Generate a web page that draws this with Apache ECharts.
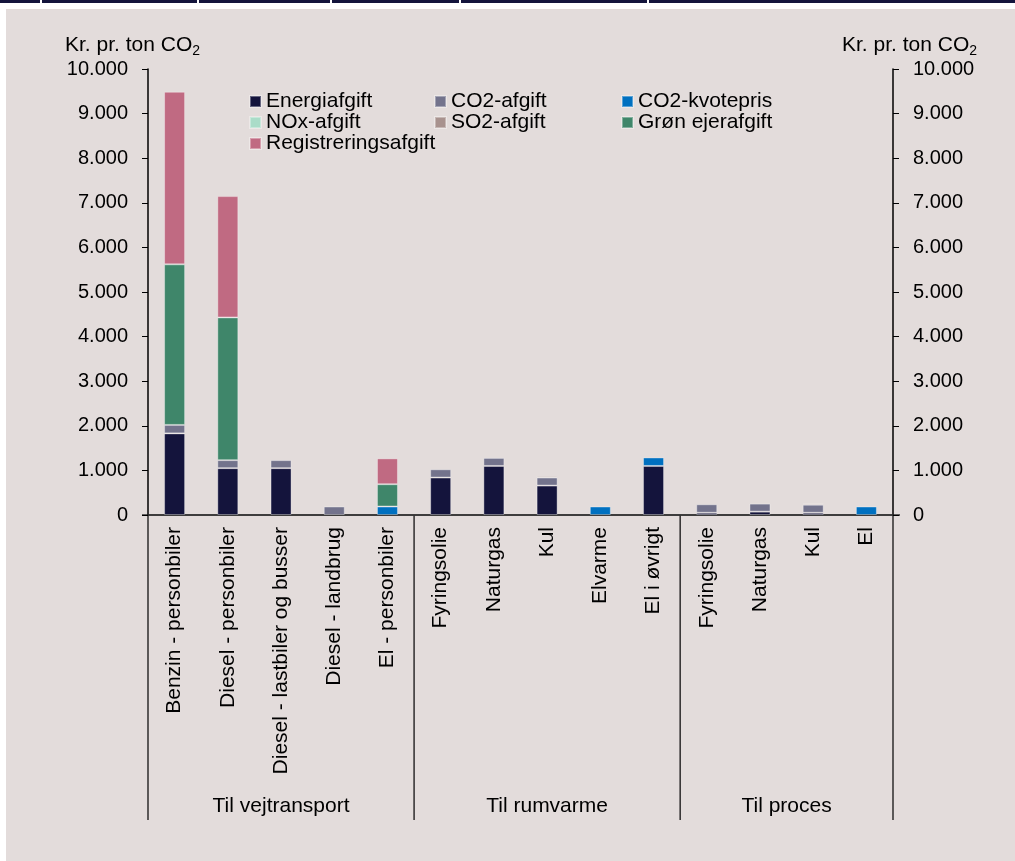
<!DOCTYPE html>
<html>
<head>
<meta charset="utf-8">
<script src="https://cdn.jsdelivr.net/npm/echarts@6/dist/echarts.min.js"></script>
<style>
  html, body { margin:0; padding:0; background:#ffffff; }
  #wrap { position:relative; width:1015px; height:861px; overflow:hidden; }
  #topbar { position:absolute; left:0; top:0; width:1015px; height:3px; background:#14143c; }
  #panel { position:absolute; left:6px; top:9px; width:1009px; height:852px; background:#e3dcdb; }
  #chart { position:absolute; left:0; top:0; width:1015px; height:861px; }
</style>
</head>
<body>
<div id="wrap">
  <div id="topbar"></div>
  <div id="panel"></div>
  <div id="chart"></div>
</div>
<script>
const categories = ['Benzin - personbiler','Diesel - personbiler','Diesel - lastbiler og busser','Diesel - landbrug','El - personbiler','Fyringsolie','Naturgas','Kul','Elvarme','El i øvrigt','Fyringsolie','Naturgas','Kul','El'];
const groups = ['Til vejtransport','Til rumvarme','Til proces'];
const groupSizes = [5, 5, 4];
const energiafgift     = [1830,1050,1050,0,0,840,1100,660,0,1100,50,75,50,0];
const co2afgift        = [190,180,180,190,0,185,180,180,0,0,190,180,180,0];
const co2kvotepris     = [0,0,0,0,190,0,0,0,190,190,0,0,0,190];
const noxafgift        = [0,0,0,0,0,0,0,0,0,0,0,0,0,0];
const so2afgift        = [0,0,0,0,0,0,0,35,0,0,0,0,30,0];
const groenEjerafgift  = [3600,3200,0,0,500,0,0,0,0,0,0,0,0,0];
const registrering     = [3870,2720,0,0,580,0,0,0,0,0,0,0,0,0];
const yTicks = [0,1000,2000,3000,4000,5000,6000,7000,8000,9000,10000];

const seriesDefs = [
  ['Energiafgift', energiafgift, '#14143c'],
  ['CO2-afgift', co2afgift, '#73738c'],
  ['CO2-kvotepris', co2kvotepris, '#0070c0'],
  ['NOx-afgift', noxafgift, '#aadcc8'],
  ['SO2-afgift', so2afgift, '#a8928e'],
  ['Grøn ejerafgift', groenEjerafgift, '#3f866a'],
  ['Registreringsafgift', registrering, '#c06a82']
];

const FONT = 'Liberation Sans, Arial, sans-serif';
const fmt = v => String(v).replace(/\B(?=(\d{3})+(?!\d))/g, '.');

const chart = echarts.init(document.getElementById('chart'), null, {renderer:'canvas'});

const legendCommon = {
  orient:'vertical', itemWidth:11, itemHeight:11, itemGap:0, top:86, padding:5,
  icon:'rect',
  textStyle:{fontFamily:FONT, fontSize:21, lineHeight:21, color:'#000'}
};

const yAxisCommon = {
  type:'value', min:0, max:10000, interval:1000,
  axisLine:{show:true, lineStyle:{color:'#000', width:1.5}},
  axisTick:{show:true, inside:false, length:6, lineStyle:{color:'#000'}},
  splitLine:{show:false},
  axisLabel:{margin:20, formatter:fmt, fontFamily:FONT, fontSize:20, color:'#000'}
};

const option = {
  backgroundColor:'transparent',
  animation:false,
  grid:{left:148, right:122, top:69, bottom:346, containLabel:false},
  legend:[
    Object.assign({}, legendCommon, {left:244, data:['Energiafgift','NOx-afgift','Registreringsafgift']}),
    Object.assign({}, legendCommon, {left:429, data:['CO2-afgift','SO2-afgift']}),
    Object.assign({}, legendCommon, {left:616, data:['CO2-kvotepris','Grøn ejerafgift']})
  ],
  xAxis:{
    type:'category', data:categories,
    axisLine:{show:true, lineStyle:{color:'#333', width:1.5}},
    axisTick:{show:false},
    axisLabel:{interval:0, rotate:90, margin:12, fontFamily:FONT, fontSize:21, color:'#000'}
  },
  yAxis:[
    Object.assign({}, yAxisCommon, {position:'left'}),
    Object.assign({}, yAxisCommon, {position:'right'})
  ],
  series: seriesDefs.map(([name, vals, color]) => ({
    name, type:'bar', stack:'total', barWidth:21, yAxisIndex:0,
    data: vals.map(v => v === 0 ? null : v),
    itemStyle:{color, borderColor:'rgba(255,255,255,0.35)', borderWidth:1}
  })),
  graphic:[
    {type:'text', left:65, top:35, style:{rich:{a:{fontFamily:FONT, fontSize:21, fill:'#000'}, b:{fontFamily:FONT, fontSize:14, fill:'#000', padding:[11,0,0,0]}}, text:'{a|Kr. pr. ton CO}{b|2}'}},
    {type:'text', right:38, top:35, style:{rich:{a:{fontFamily:FONT, fontSize:21, fill:'#000'}, b:{fontFamily:FONT, fontSize:14, fill:'#000', padding:[11,0,0,0]}}, text:'{a|Kr. pr. ton CO}{b|2}'}}
  ]
};
chart.setOption(option);

// group dividers and labels computed from the category scale
const c0 = chart.convertToPixel({xAxisIndex:0}, 0);
const c1 = chart.convertToPixel({xAxisIndex:0}, 1);
const bw = c1 - c0;
const yBase = chart.convertToPixel({yAxisIndex:0}, 0);
const g = [];
let idx = 0;
const bounds = [c0 - bw/2];
groupSizes.forEach(n => { idx += n; bounds.push(c0 - bw/2 + idx*bw); });
bounds.forEach(x => {
  g.push({type:'line', shape:{x1:x, y1:yBase, x2:x, y2:820}, style:{stroke:'#000', lineWidth:1.2}, silent:true});
});
// axis line overhang on both ends
g.push({type:'line', shape:{x1:bounds[0]-6, y1:yBase, x2:bounds[bounds.length-1]+7, y2:yBase}, style:{stroke:'#333', lineWidth:1.5}, silent:true});
groups.forEach((name, i) => {
  g.push({type:'text', x:(bounds[i]+bounds[i+1])/2, y:806, style:{text:name, fontFamily:FONT, fontSize:21, fill:'#000', align:'center', verticalAlign:'middle'}, silent:true});
});
// small white marks in the top bar
[40,197,330,459,647].forEach(x => g.push({type:'rect', shape:{x:x, y:0, width:2, height:3}, style:{fill:'#ffffff'}, silent:true}));
chart.setOption({graphic: option.graphic.concat(g)});
</script>
</body>
</html>
